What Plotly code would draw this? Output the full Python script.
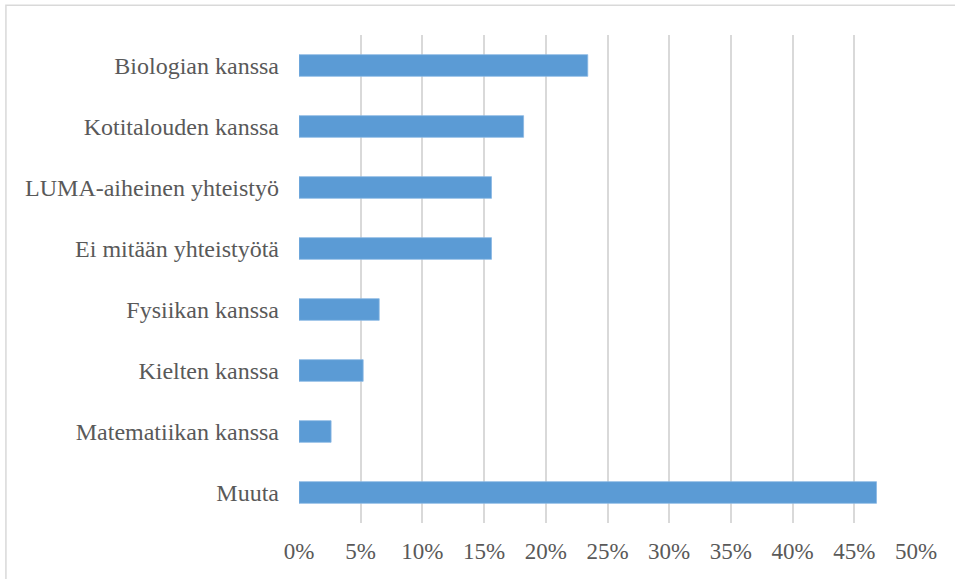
import plotly.graph_objects as go

categories = ["Biologian kanssa", "Kotitalouden kanssa", "LUMA-aiheinen yhteistyö",
              "Ei mitään yhteistyötä", "Fysiikan kanssa", "Kielten kanssa",
              "Matematiikan kanssa", "Muuta"]
values = [0.234, 0.182, 0.156, 0.156, 0.065, 0.052, 0.026, 0.468]
tick_vals = [i * 0.05 for i in range(11)]
tick_text = [f"{i*5}%" for i in range(11)]

fig = go.Figure(go.Bar(
    y=categories, x=values, orientation="h",
    marker=dict(color="#5b9bd5", line=dict(color="#8ab8e3", width=0.8)),
))

family = "Liberation Serif, Times New Roman, serif"
xfont = dict(family=family, size=23, color="#595959")
yfont = dict(family=family, size=24, color="#595959")

fig.update_layout(
    width=955, height=579,
    margin=dict(l=299, r=39, t=35, b=56),
    paper_bgcolor="white", plot_bgcolor="white",
    bargap=0.645,
    showlegend=False,
    font=xfont,
    xaxis=dict(range=[0, 0.5], tickvals=tick_vals, ticktext=tick_text,
               showgrid=True, gridcolor="#d9d9d9", gridwidth=1.5,
               zeroline=False, showline=False, ticks="",
               ticklabelstandoff=12, tickfont=xfont),
    yaxis=dict(autorange="reversed", showgrid=False, zeroline=False,
               showline=False, ticks="", ticklabelstandoff=19, tickfont=yfont),
    shapes=[dict(type="rect", xref="paper", yref="paper",
                 x0=-0.475, x1=1.08, y0=-0.14, y1=1.061,
                 line=dict(color="#d9d9d9", width=1.5), fillcolor="rgba(0,0,0,0)",
                 layer="below")],
)

fig.write_html("out.html", config={"displayModeBar": False},
               post_script="document.body.style.margin='0';")
